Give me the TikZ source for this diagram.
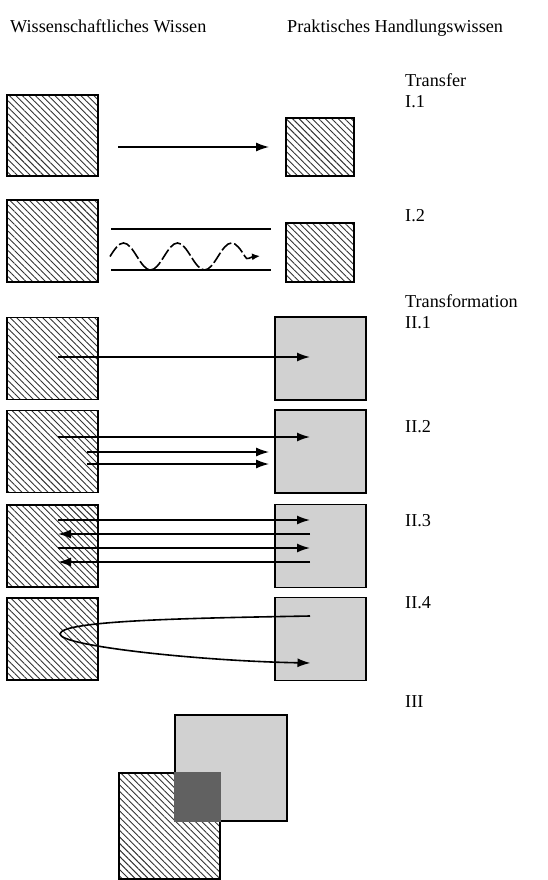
\documentclass[tikz,border=0pt]{standalone}
\usepackage{fontspec}
\setmainfont{Liberation Serif}
\usetikzlibrary{arrows.meta,calc,patterns.meta}

\begin{document}
\begin{tikzpicture}[x=1pt, y=-1pt,
	every node/.style={font=\fontsize{18.2}{20}\selectfont, inner sep=0pt},
	lbl/.style={anchor=base west},
	hatchbox/.style={draw, line width=1.8pt, minimum width=91pt, minimum height=82pt,
		pattern={Lines[angle=-45,distance=4.6pt,line width=0.9pt]}, pattern color=black!80},
	graybox/.style={draw, line width=1.8pt, fill=black!18, minimum width=91pt, minimum height=83pt},
	arr/.style={line width=1.6pt, -{Latex[length=13pt,width=9pt]}},
	]
	\useasboundingbox (0,0) rectangle (548,880);
	% headings
	\node[lbl] (hsci) at (10,33) {Wissenschaftliches Wissen};
	\node[lbl] (hprac) at (287,33) {Praktisches Handlungswissen};
	\node[lbl] (ttransfer) at (405,87) {Transfer};
	\node[lbl] (tI1) at (405,107) {I.1};
	\node[lbl] (tI2) at (405,221) {I.2};
	\node[lbl] (ttransf) at (405,307) {Transformation};
	\node[lbl] (tII1) at (405,328) {II.1};
	\node[lbl] (tII2) at (405,432) {II.2};
	\node[lbl] (tII3) at (405,526) {II.3};
	\node[lbl] (tII4) at (405,608) {II.4};
	\node[lbl] (tIII) at (405,707) {III};

	% I.1
	\node[hatchbox, minimum height=81pt] (L1) at (52.5,135.5) {};
	\node[hatchbox, minimum width=68pt, minimum height=58pt] (R1) at (320,147) {};
	\draw[arr] ($(L1.east |- R1.west)+(20,0)$) -- ($(R1.west)+(-16,0)$);

	% I.2
	\node[hatchbox] (L2) at (52.5,241) {};
	\node[hatchbox, minimum width=68pt, minimum height=59pt] (R2) at (320,252.5) {};
	\draw[line width=1.6pt] (111,229) -- (271,229);
	\draw[line width=1.6pt] (111,270) -- (271,270);
	\draw[line width=1.6pt, dash pattern=on 12pt off 3pt, -{Latex[length=8pt,width=7pt]}]
		(110,256.5) sin (123.5,243) cos (137,256.5) sin (150.5,270) cos (164,256.5)
		sin (177.5,243) cos (191,256.5) sin (204.5,270) cos (218,256.5)
		sin (231.5,243) cos (245,256.5) .. controls (247,261) and (250,257) .. (260,256);

	% II.1
	\node[hatchbox] (L3) at (52.5,358.5) {};
	\node[graybox] (R3) at (320.5,358.5) {};
	\draw[arr] ($(L3.center)+(5.5,-1.5)$) -- ($(R3.center)+(-10.5,-1.5)$);

	% II.2
	\node[hatchbox] (L4) at (52.5,451.5) {};
	\node[graybox] (R4) at (320.5,451.5) {};
	\draw[arr] ($(L4.center)+(5.5,-14.5)$) -- ($(R4.center)+(-10.5,-14.5)$);
	\draw[arr] ($(L4.east)+(-12,0.5)$) -- ($(R4.west)+(-5,0.5)$);
	\draw[arr] ($(L4.east)+(-12,12.5)$) -- ($(R4.west)+(-5,12.5)$);

	% II.3
	\node[hatchbox] (L5) at (52.5,546) {};
	\node[graybox] (R5) at (320.5,546) {};
	\draw[arr] ($(L5.center)+(5.5,-26)$) -- ($(R5.center)+(-10.5,-26)$);
	\draw[arr] ($(R5.center)+(-10.5,-12)$) -- ($(L5.center)+(5.5,-12)$);
	\draw[arr] ($(L5.center)+(5.5,2)$) -- ($(R5.center)+(-10.5,2)$);
	\draw[arr] ($(R5.center)+(-10.5,16)$) -- ($(L5.center)+(5.5,16)$);

	% II.4
	\node[hatchbox] (L6) at (52.5,639) {};
	\node[graybox] (R6) at (320.5,639) {};
	\coordinate (loop) at ($(L6.center)+(7.5,-5)$);
	\draw[arr] ($(R6.center)+(-10.5,-23)$) .. controls (200,618) and (60,620) .. (loop)
		.. controls (60,646) and (200,661) .. ($(R6.center)+(-10,24)$);

	% III
	\node[hatchbox, minimum width=101pt, minimum height=106pt] (H) at (169.5,826) {};
	\node[graybox, minimum width=112pt, minimum height=106pt] (G) at (231,768) {};
	\fill[black!62] (G.west |- H.north) rectangle (H.east |- G.south);
\end{tikzpicture}
\end{document}
